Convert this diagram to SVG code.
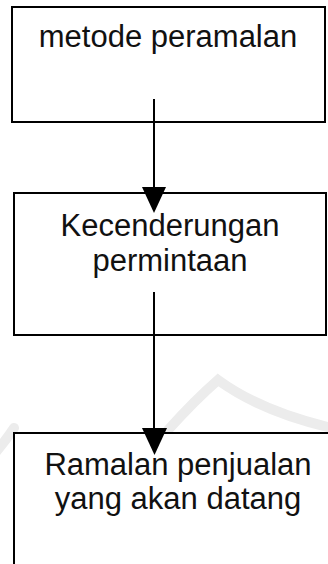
<svg xmlns="http://www.w3.org/2000/svg" width="328" height="564" viewBox="0 0 328 564">
  <style>
    .box { fill: #ffffff; stroke: #000000; stroke-width: 2; }
    .label { font-family: "Liberation Sans", Arial, Helvetica, sans-serif; font-size: 31px; fill: #111111; text-anchor: middle; }
    .wire { stroke: #000000; stroke-width: 2; fill: none; }
    .head { fill: #000000; }
    .mark { fill: none; stroke: #ececec; stroke-width: 10; stroke-linecap: round; }
  </style>

  <rect width="328" height="564" fill="#ffffff"/>

  <!-- faint background emblem -->
  <g id="emblem">
    <path class="mark" d="M168,430 Q195,400 218,380 Q262,412 332,428"/>
    <path class="mark" d="M-4,452 Q6,440 14,428"/>
  </g>

  <g id="node-metode">
    <rect class="box" x="12" y="7" width="313" height="115"/>
    <text class="label" x="168" y="47">metode peramalan</text>
  </g>

  <g id="node-kecenderungan">
    <rect class="box" x="14" y="193" width="312" height="142"/>
    <text class="label" x="170" y="236">Kecenderungan</text>
    <text class="label" x="170" y="271">permintaan</text>
  </g>

  <g id="node-ramalan">
    <rect class="box" x="14" y="433" width="330" height="150"/>
    <text class="label" x="178" y="475">Ramalan penjualan</text>
    <text class="label" x="178" y="509">yang akan datang</text>
  </g>

  <g id="connectors">
    <line class="wire" x1="154" y1="99" x2="154" y2="190"/>
    <polygon class="head" points="142,187 166,187 154,213"/>
    <line class="wire" x1="154" y1="292" x2="154" y2="430"/>
    <polygon class="head" points="142,428 167,428 154.5,455"/>
  </g>
</svg>
